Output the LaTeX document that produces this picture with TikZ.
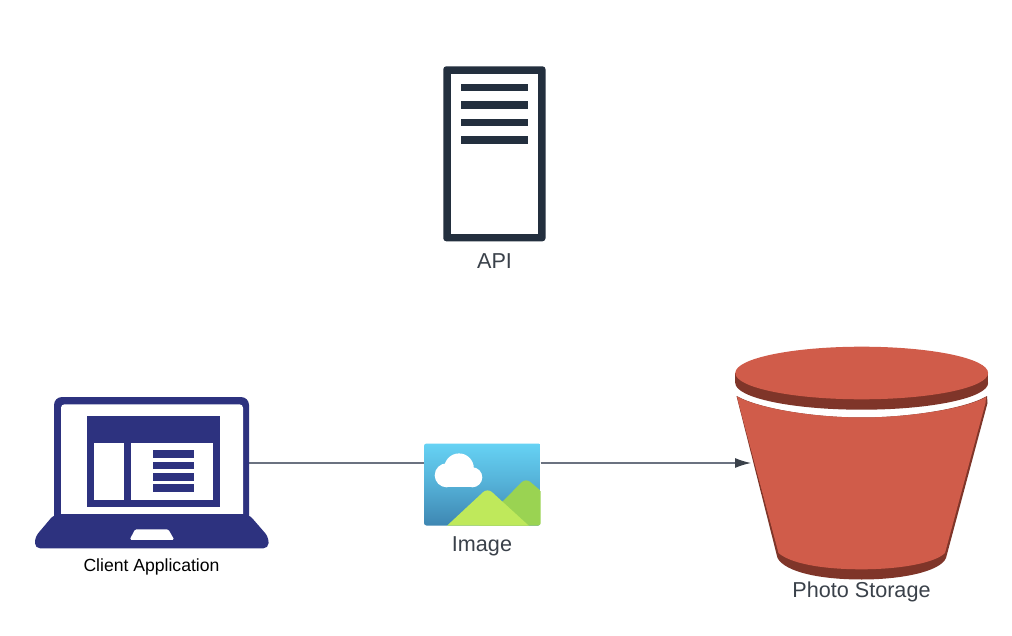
\documentclass[tikz,border=0pt]{standalone}
\usepackage{fontspec}
\setmainfont{Liberation Sans}
\definecolor{lapc}{HTML}{2D327F}
\definecolor{srvc}{HTML}{232F3E}
\definecolor{txtc}{HTML}{3A414A}
\definecolor{linec}{HTML}{6B7280}
\definecolor{bktc}{HTML}{D05C4A}
\definecolor{bktd}{HTML}{7F3529}
\definecolor{skyt}{HTML}{66D2F4}
\definecolor{skyb}{HTML}{3E86B2}
\definecolor{mtnf}{HTML}{BFE95B}
\definecolor{mtnb}{HTML}{9AD352}
\tikzset{
  x=1pt,y=-1pt,
  frame/.style={inner sep=0pt,outer sep=0pt,anchor=north west},
  lab/.style={text=txtc,font=\fontsize{21.6}{26}\selectfont,inner sep=0pt},
  conn/.style={draw=linec,line width=1.3pt},
  tipconn/.style={conn,-{Latex[length=16pt,width=10pt,color=txtc]}},
  lapfill/.style={fill=lapc,draw=none},
  srvfill/.style={fill=srvc,draw=none},
  wfill/.style={fill=white,draw=none},
}
\usetikzlibrary{arrows.meta}
\begin{document}
\begin{tikzpicture}
\useasboundingbox (0,0) rectangle (1012,636);
\fill[white] (0,0) rectangle (1012,636);
% frames used as connector ends
\node[frame,minimum width=195pt,minimum height=151pt] (client) at (54,397) {};
\node[frame,minimum width=117pt,minimum height=82pt] (image) at (424,443.5) {};
\coordinate (bucketin) at (751,463);
\coordinate (clientout) at (249,463);
\coordinate (imgl) at (424,463);
\coordinate (imgr) at (540.7,463);
% connectors
\draw[conn] (clientout) -- (imgl);
\draw[tipconn] (imgr) -- (bucketin);
% server
\fill[srvfill,rounded corners=3pt] (443.3,66.3) rectangle (545.5,241.3);
\fill[wfill] (450.7,73.7) rectangle (538.3,233.7);
\fill[srvfill] (461,83.7) rectangle (527.7,91);
\fill[srvfill] (461,101.2) rectangle (527.7,108.7);
\fill[srvfill] (461,118.7) rectangle (527.7,126);
\fill[srvfill] (461,136) rectangle (527.7,143.7);
\node[lab] (apilab) at (494.5,261) {API};
% laptop
\fill[lapfill,rounded corners=8pt] (54,530) -- (54,397) -- (249,397) -- (249,530) -- cycle;
\fill[wfill,rounded corners=3.5pt] (61,530) -- (61,404.3) -- (243,404.3) -- (243,530) -- cycle;
\fill[lapfill] (54,514.3) -- (249,514.3) -- (249,515) -- (54,515) -- cycle;
\fill[lapfill,rounded corners=5pt] (54,514.5) -- (35,537) -- (35,548.3) -- (268.5,548.3) -- (268.5,537) -- (249,514.5) -- cycle;
\fill[lapfill] (87,416) rectangle (220,507.3);
\fill[wfill] (94,442.5) rectangle (124,499.5);
\fill[wfill] (131,442.5) rectangle (213,499.5);
\fill[lapfill] (153.3,450) rectangle (194.3,457.7);
\fill[lapfill] (153.3,461.5) rectangle (194.3,469);
\fill[lapfill] (153.3,473) rectangle (194.3,480.7);
\fill[lapfill] (153.3,484.3) rectangle (194.3,492);
\fill[wfill,rounded corners=1.5pt] (135,529.3) -- (168.3,529.3) -- (174.3,539.8) -- (129.7,539.8) -- cycle;
\node[inner sep=0pt,font=\fontsize{17.6}{22}\selectfont,text=black] (clientlab) at (151.5,566.5) {Client Application};
% image
\begin{scope}
\clip[rounded corners=2.5pt] (424,443.5) rectangle (540.7,525.5);
\shade[top color=skyt,bottom color=skyb,middle color=skyt!55!skyb] (424,443.5) rectangle (540.7,525.5);
\fill[mtnb,rounded corners=6pt] (470,535) -- (525.7,478) -- (555,503) -- (555,535) -- cycle;
\fill[mtnf,rounded corners=6pt] (437,535) -- (487.5,488) -- (539,535) -- cycle;
\end{scope}
\fill[white] (446.7,475.3) circle[radius=12];
\fill[white] (459,468.2) circle[radius=14.8];
\fill[white] (472.3,477.3) circle[radius=10];
\fill[white] (446.7,477) rectangle (472.3,487.3);
\node[lab] (imglab) at (482,546) {Image};
% bucket
\fill[bktd] (735.3,373) rectangle (988,383);
\fill[bktd] (861.7,383) ellipse[x radius=126.4,y radius=26.7];
\fill[bktc] (861.7,373) ellipse[x radius=126.4,y radius=26.3];
\fill[bktd] (736.5,396) .. controls (760,409) and (815,417.5) .. (861.7,417.5)
  .. controls (908,417.5) and (965,409) .. (987,396)
  -- (987.5,403) -- (946,558) .. controls (940,572) and (900,579.5) .. (861.7,579.5)
  .. controls (820,579.5) and (785,572) .. (777.5,558) -- cycle;
\fill[bktc] (737,396.5) .. controls (760,409) and (815,417.5) .. (861.7,417.5)
  .. controls (908,417.5) and (965,409) .. (986,397)
  -- (985.5,403) -- (945,553) .. controls (935,563) and (900,569.3) .. (861.7,569.3)
  .. controls (820,569.3) and (790,563) .. (778.5,553) -- (738.5,403) -- cycle;
\node[lab] (bktlab) at (861.5,591.5) {Photo Storage};
\end{tikzpicture}
\end{document}
